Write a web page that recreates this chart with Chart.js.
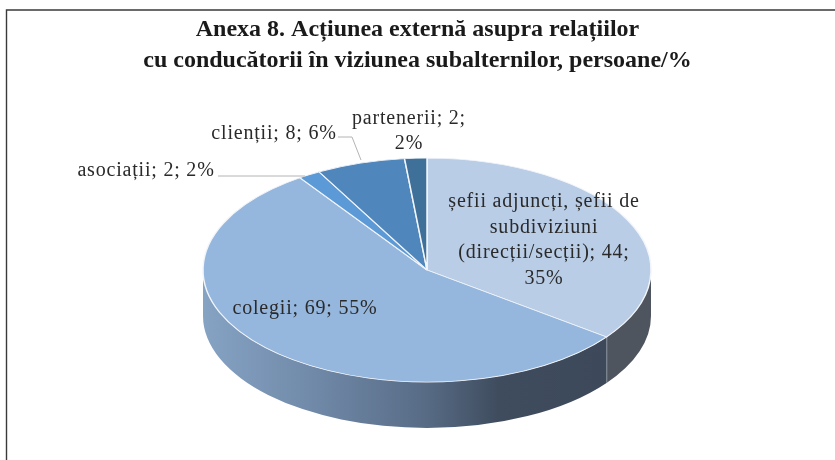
<!DOCTYPE html>
<html><head><meta charset="utf-8">
<style>html,body{margin:0;padding:0;background:#fff}#w{width:835px;height:460px;position:relative}</style>
<script src="https://cdn.jsdelivr.net/npm/chart.js@4"></script></head>
<body><div id="w"><canvas id="c" width="835" height="460"></canvas></div>
<script>
const titleLines = ["Anexa 8. Acțiunea externă asupra relațiilor", "cu conducătorii în viziunea subalternilor, persoane/%"];
const categories = ["șefii adjuncți, șefii de subdiviziuni (direcții/secții)", "colegii", "asociații", "clienții", "partenerii"];
const values = [44, 69, 2, 8, 2];
const topColors = ["#b9cde7", "#95b6dd", "#5b9ad6", "#4f86bb", "#3f7099"];
const wallColors = ["#4f555f", "#3e4b5c", "#3c6a98", "#335a80", "#2a4a68"];

// Layout (pixels), kept apart from the data
const CX = 427, CY = 270, RX = 224, SQUASH = 0.5, DEPTH = 46;
const labelLayout = [
  {x: 544, y: 202, wrap: 200, lh: 25.5},
  {x: 305, y: 309, wrap: 300, lh: 25},
  {x: 146, y: 171, wrap: 300, lh: 25},
  {x: 274, y: 134, wrap: 300, lh: 25},
  {x: 409, y: 119, wrap: 125, lh: 25}
];
const leaders = [null, null, [[218,176],[305,176]], [[338,137],[352,137],[361,160]], null];

const total = values.reduce((a,b)=>a+b,0);
function labelText(i){ return categories[i]+"; "+values[i]+"; "+Math.round(values[i]/total*100)+"%"; }
function wrapText(ctx, s, w){
  const out=[]; let cur="";
  for(const word of s.split(" ")){
    const t=cur?cur+" "+word:word;
    if(ctx.measureText(t).width>w&&cur){out.push(cur);cur=word;} else cur=t;
  }
  if(cur)out.push(cur); return out;
}

const pie3d = {
  id:"pie3d",
  beforeDraw(chart){
    const c=chart.ctx; c.save();
    c.fillStyle="#fff"; c.fillRect(0,0,835,460);
    c.strokeStyle="#3a3a3a"; c.lineWidth=1.4;
    c.beginPath(); c.moveTo(6.5,460); c.lineTo(6.5,10); c.lineTo(835,10); c.stroke();
    c.restore();
  },
  beforeDatasetsDraw(chart){
    const c=chart.ctx, arcs=chart.getDatasetMeta(0).data;
    const ry=RX*SQUASH;
    arcs.forEach((a,i)=>{
      const s=Math.max(a.startAngle,0), e=Math.min(a.endAngle,Math.PI);
      if(e<=s) return;
      c.save();
      const grad=c.createLinearGradient(CX-RX,0,CX+RX,0);
      if(i===1){
        grad.addColorStop(0,"#86a3c4"); grad.addColorStop(0.25,"#7089a8");
        grad.addColorStop(0.5,"#576b85"); grad.addColorStop(0.66,"#3f4c5e");
        grad.addColorStop(1,"#3c4858");
      } else { grad.addColorStop(0,wallColors[i]); grad.addColorStop(1,wallColors[i]); }
      c.fillStyle=grad;
      c.beginPath();
      c.ellipse(CX,CY,RX,ry,0,s,e);
      c.ellipse(CX,CY+DEPTH,RX,ry,0,e,s,true);
      c.closePath(); c.fill();
      c.restore();
      if(a.endAngle<Math.PI && a.endAngle>0){
        const x=CX+RX*Math.cos(a.endAngle), y=CY+ry*Math.sin(a.endAngle);
        c.save(); c.strokeStyle="#c3c8ce"; c.lineWidth=1.2;
        c.beginPath(); c.moveTo(x,y); c.lineTo(x,y+DEPTH); c.stroke(); c.restore();
      }
    });
    const a0=arcs[0];
    c.save();
    c.translate(0,CY); c.scale(1,SQUASH); c.translate(CX-a0.x,-a0.y);
  },
  afterDatasetsDraw(chart){
    const c=chart.ctx;
    c.restore();
    c.save();
    c.strokeStyle="#b4b4b4"; c.lineWidth=1;
    leaders.forEach(l=>{ if(!l)return;
      c.beginPath(); l.forEach((p,j)=> j?c.lineTo(p[0],p[1]):c.moveTo(p[0],p[1])); c.stroke();
    });
    c.fillStyle="#2a2a2a"; c.font="20px 'Liberation Serif'"; c.letterSpacing="0.8px"; c.textAlign="center"; c.textBaseline="middle";
    categories.forEach((_,i)=>{
      const L=labelLayout[i];
      wrapText(c,labelText(i),L.wrap).forEach((t,j)=>c.fillText(t,L.x,L.y+j*L.lh));
    });
    c.restore();
  }
};

new Chart(document.getElementById("c"),{
  type:"pie",
  data:{labels:categories,datasets:[{data:values,backgroundColor:topColors,borderColor:"#f2f5fa",borderWidth:1.5,clip:false}]},
  options:{
    responsive:false,animation:false,radius:RX,
    layout:{padding:{top:10}},
    plugins:{
      legend:{display:false},tooltip:{enabled:false},
      title:{display:true,text:titleLines,color:"#1a1a1a",font:{family:"'Liberation Serif'",size:24,weight:"bold",lineHeight:1.3},padding:{top:4,bottom:0}}
    }
  },
  plugins:[pie3d]
});
</script></body></html>
